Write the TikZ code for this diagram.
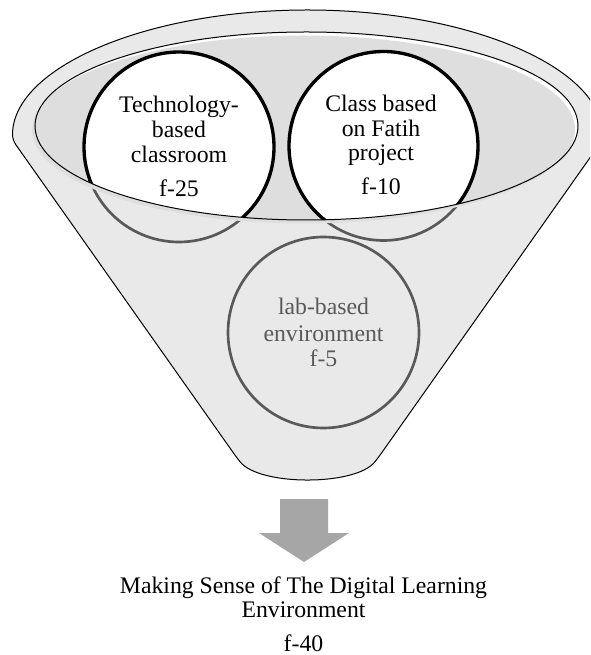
\documentclass[tikz,border=0pt]{standalone}
\usepackage{fontspec}
\setmainfont{Liberation Serif}
\definecolor{funnelgray}{HTML}{E9E9E9}
\definecolor{innergray}{HTML}{DEDEDE}
\definecolor{ringgray}{HTML}{595959}
\definecolor{arrowgray}{HTML}{A6A6A6}
\begin{document}
\begin{tikzpicture}[x=0.75pt,y=-0.75pt,
  lowring/.style={draw=ringgray, line width=2pt},
  topring/.style={draw=black, line width=2.5pt, fill=white},
  lbl/.style={font=\fontsize{17.8}{20}\selectfont, anchor=base, inner sep=0pt},
  graylbl/.style={lbl, text=ringgray}]
\useasboundingbox (0,0) rectangle (590,655);
\clip (0,0) rectangle (590,655);
\coordinate (tc) at (179,147);
\coordinate (cc) at (383.5,146);
\coordinate (lc) at (323.5,332.5);
\coordinate (ie) at (306.5,126);
\coordinate (ies) at (303.5,129.5);
% funnel body
\path[fill=funnelgray, draw=black, line width=0.75pt, rounded corners=4pt]
  (12.5,140) -- (237,458) .. controls (260,486) and (355,486) .. (378,458)
  -- (602.5,140) arc[start angle=0, end angle=-180, x radius=295, y radius=130] -- cycle;
% rings seen through the funnel
\draw[lowring] (tc) circle[radius=95];
\draw[lowring] (cc) circle[radius=94.5];
\draw[lowring] (lc) circle[radius=95.5];
% funnel opening
\fill[white] (ie) ellipse[x radius=271.5, y radius=94];
\fill[innergray] (ies) ellipse[x radius=271.5, y radius=94];
\begin{scope}
  \clip (ie) ellipse[x radius=271.5, y radius=94];
  \draw[topring] (tc) circle[radius=95];
  \draw[topring] (cc) circle[radius=94.5];
\end{scope}
\draw[black, line width=0.75pt] (ie) ellipse[x radius=271.5, y radius=94];
% texts in circles
\node[lbl] (t1) at (179,113) {Technology-};
\node[lbl] (t2) at (179,138) {based};
\node[lbl] (t3) at (179,163) {classroom};
\node[lbl] (t4) at (179,197) {f-25};
\node[lbl] (c1) at (381,112) {Class based};
\node[lbl] (c2) at (381,137) {on Fatih};
\node[lbl] (c3) at (381,161) {project};
\node[lbl] (c4) at (381,195) {f-10};
\node[graylbl] (l1) at (323.5,315) {lab-based};
\node[graylbl] (l2) at (323.5,341) {environment};
\node[graylbl] (l3) at (323.5,366) {f-5};
% arrow
\fill[arrowgray] (280,499) -- (328,499) -- (328,533) -- (349,533) -- (304,562)
  -- (259,533) -- (280,533) -- cycle;
% result text
\node[lbl] (r1) at (303.5,593) {Making Sense of The Digital Learning};
\node[lbl] (r2) at (303.5,617) {Environment};
\node[lbl] (r3) at (303.5,651) {f-40};
\end{tikzpicture}
\end{document}
